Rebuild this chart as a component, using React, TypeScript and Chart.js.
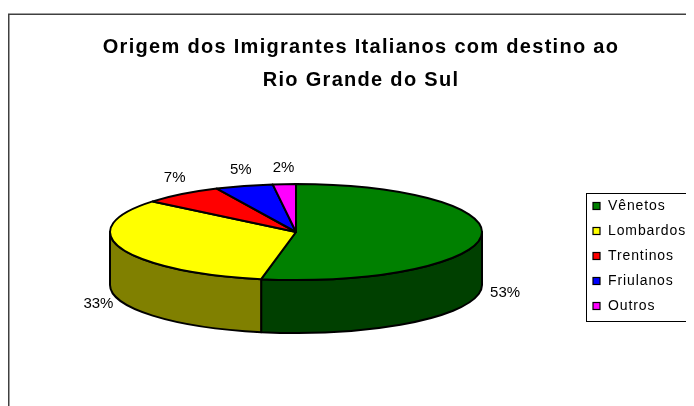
import React, { useEffect, useRef } from "react";
import { Chart, registerables } from "chart.js";

Chart.register(...registerables);

// ---- data ----
const TITLE_LINES = ["Origem dos Imigrantes Italianos com destino ao", "Rio Grande do Sul"];
const CATEGORIES = ["Vênetos", "Lombardos", "Trentinos", "Friulanos", "Outros"];
const SHARES = [53, 33, 7, 5, 2];
const TOP_COLORS = ["#008000", "#FFFF00", "#FF0000", "#0000FF", "#FF00FF"];
const SIDE_COLORS = ["#004000", "#808000", "#800000", "#000080", "#800080"];

// ---- layout ----
const W = 686;
const H = 398;
const TILT = 48 / 186; // vertical squash of the pie top
const DEPTH = 53; // thickness of the 3D pie
const CENTER_SHIFT = 25; // drop of the projected pie centre
const FONT = "'Liberation Sans', Arial, sans-serif";

const pie3d = {
  id: "pie3d",
  beforeDraw(chart: any) {
    const ctx = chart.ctx;
    ctx.save();
    ctx.fillStyle = "#ffffff";
    ctx.fillRect(0, 0, W, H);
    ctx.strokeStyle = "#404040";
    ctx.lineWidth = 1.5;
    ctx.strokeRect(0.75, 6.25, W + 40, H + 40);
    // title
    ctx.fillStyle = "#000";
    ctx.font = `bold 20px ${FONT}`;
    (ctx as any).letterSpacing = "1.3px";
    ctx.textAlign = "center";
    ctx.textBaseline = "middle";
    ctx.fillText(TITLE_LINES[0], 353, 39);
    ctx.fillText(TITLE_LINES[1], 353, 72);
    ctx.restore();
  },
  beforeDatasetsDraw(chart: any) {
    const ctx = chart.ctx;
    const arcs = chart.getDatasetMeta(0).data as any[];
    if (!arcs.length) return false;
    const a0 = arcs[0];
    const cx = a0.x;
    const cy = a0.y + CENTER_SHIFT;
    const rx = a0.outerRadius;
    const ry = rx * TILT;
    ctx.save();
    ctx.lineWidth = 2;
    ctx.strokeStyle = "#000";
    ctx.lineJoin = "round";
    // side walls (front half only)
    arcs.forEach((arc, i) => {
      const s = arc.startAngle;
      const e = arc.endAngle;
      for (let k = -1; k <= 1; k++) {
        const lo = Math.max(s, 2 * Math.PI * k);
        const hi = Math.min(e, Math.PI + 2 * Math.PI * k);
        if (hi > lo) {
          ctx.beginPath();
          ctx.ellipse(cx, cy, rx, ry, 0, lo, hi, false);
          ctx.lineTo(cx + rx * Math.cos(hi), cy + DEPTH + ry * Math.sin(hi));
          ctx.ellipse(cx, cy + DEPTH, rx, ry, 0, hi, lo, true);
          ctx.closePath();
          ctx.fillStyle = SIDE_COLORS[i];
          ctx.fill();
          ctx.stroke();
        }
      }
    });
    // top faces
    arcs.forEach((arc, i) => {
      ctx.beginPath();
      ctx.moveTo(cx, cy);
      ctx.ellipse(cx, cy, rx, ry, 0, arc.startAngle, arc.endAngle, false);
      ctx.closePath();
      ctx.fillStyle = TOP_COLORS[i];
      ctx.fill();
      ctx.stroke();
    });
    // percentage labels
    const values = chart.data.datasets[0].data as number[];
    const total = values.reduce((a, b) => a + b, 0);
    const pos = arcs.map((arc, i) => {
      const m = (arc.startAngle + arc.endAngle) / 2;
      const px = cx + rx * Math.cos(m);
      const py = cy + ry * Math.sin(m);
      const front = Math.sin(m) > 0;
      return {
        front,
        x: px + Math.cos(m) * (front ? 24 : 12),
        y: front ? py + DEPTH + 3 : py - 16,
        text: `${Math.round((values[i] / total) * 100)}%`,
      };
    });
    for (let i = pos.length - 2; i >= 0; i--) {
      const a = pos[i];
      const b = pos[i + 1];
      if (!a.front && !b.front && b.x - a.x < 41) a.x = b.x - 41;
    }
    ctx.fillStyle = "#000";
    ctx.font = `15px ${FONT}`;
    ctx.textAlign = "center";
    ctx.textBaseline = "middle";
    pos.forEach((p) => ctx.fillText(p.text, p.x, p.y));
    ctx.restore();
    return false;
  },
  afterDraw(chart: any) {
    const ctx = chart.ctx;
    const labels = chart.data.labels as string[];
    const colors = chart.data.datasets[0].backgroundColor as string[];
    ctx.save();
    // legend box
    ctx.strokeStyle = "#000";
    ctx.lineWidth = 1;
    ctx.strokeRect(578.5, 185.5, 140, 128);
    ctx.font = `14px ${FONT}`;
    (ctx as any).letterSpacing = "0.9px";
    ctx.textAlign = "left";
    ctx.textBaseline = "middle";
    labels.forEach((lab, i) => {
      const y = 198 + i * 25;
      ctx.fillStyle = colors[i];
      ctx.fillRect(585, y - 3.5, 7, 7);
      ctx.strokeStyle = "#000";
      ctx.lineWidth = 1.2;
      ctx.strokeRect(585, y - 3.5, 7, 7);
      ctx.fillStyle = "#000";
      ctx.fillText(lab, 600, y + 0.5);
    });
    ctx.restore();
  },
};

export default function App() {
  const ref = useRef<HTMLCanvasElement | null>(null);
  useEffect(() => {
    if (!ref.current) return;
    const chart = new Chart(ref.current, {
      type: "pie",
      data: {
        labels: CATEGORIES,
        datasets: [
          {
            data: SHARES,
            backgroundColor: TOP_COLORS,
            borderWidth: 0,
          },
        ],
      },
      options: {
        responsive: false,
        animation: false,
        devicePixelRatio: 1,
        layout: { padding: { left: 102, right: 212, top: 12, bottom: 12 } },
        plugins: {
          legend: { display: false },
          title: { display: false },
          tooltip: { enabled: false },
        },
      },
      plugins: [pie3d],
    } as any);
    return () => chart.destroy();
  }, []);
  return (
    <div style={{ width: W, height: H }}>
      <canvas ref={ref} width={W} height={H} style={{ display: "block" }} />
    </div>
  );
}
